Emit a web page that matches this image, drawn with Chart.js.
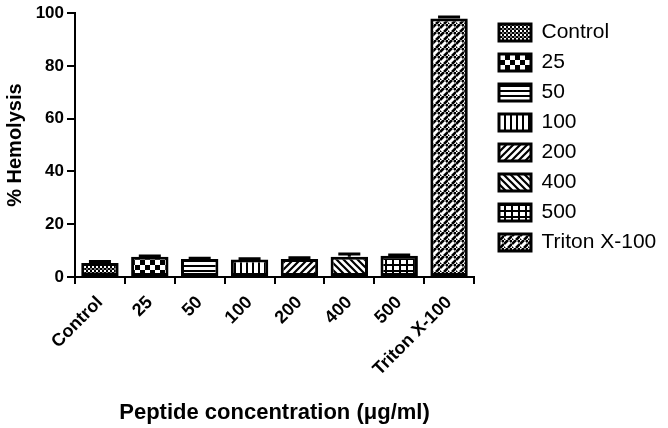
<!DOCTYPE html>
<html>
<head>
<meta charset="utf-8">
<script src="https://cdn.jsdelivr.net/npm/chart.js@4.4.1/dist/chart.umd.min.js"></script>
<style>
  body { margin:0; background:#fff; }
</style>
</head>
<body>
<canvas id="chart" width="668" height="428"></canvas>
<script>
// ── Data ─────────────────────────────────────────────
const categories = ['Control', '25', '50', '100', '200', '400', '500', 'Triton X-100'];
const hemolysis = [5.3, 7.7, 6.8, 6.6, 6.8, 7.7, 8.1, 98.0];
const errors = [0.6, 0.3, 0.3, 0.3, 0.5, 1.0, 0.2, 0.6];
const yTicks = [0, 20, 40, 60, 80, 100];

const FONT = 'Arial, "Liberation Sans", sans-serif';

// ── Fill patterns ────────────────────────────────────
function makePattern(w, h, draw) {
  const c = document.createElement('canvas');
  c.width = w; c.height = h;
  const g = c.getContext('2d');
  g.fillStyle = '#fff';
  g.fillRect(0, 0, w, h);
  g.fillStyle = '#000';
  g.strokeStyle = '#000';
  draw(g, w, h);
  return document.getElementById('chart').getContext('2d').createPattern(c, 'repeat');
}

const patterns = [
  // Control: fine checker
  makePattern(4, 4, g => { g.fillRect(0, 0, 2, 2); g.fillRect(2, 2, 2, 2); g.fillStyle = '#777'; g.fillRect(2, 0, 2, 2); }),
  // 25: coarse checker
  makePattern(10, 10, g => { g.fillRect(0, 0, 5, 5); g.fillRect(5, 5, 5, 5); }),
  // 50: horizontal lines
  makePattern(6, 5, g => { g.fillRect(0, 0, 6, 2); }),
  // 100: vertical lines
  makePattern(6, 6, g => { g.fillRect(0, 0, 2, 6); }),
  // 200: forward diagonal
  makePattern(7, 7, g => {
    g.lineWidth = 2.2;
    g.beginPath(); g.moveTo(-1, 8); g.lineTo(8, -1); g.moveTo(-4, 4); g.lineTo(4, -4); g.moveTo(3, 11); g.lineTo(11, 3); g.stroke();
  }),
  // 400: back diagonal
  makePattern(7, 7, g => {
    g.lineWidth = 2.2;
    g.beginPath(); g.moveTo(-1, -1); g.lineTo(8, 8); g.moveTo(-4, 3); g.lineTo(4, 11); g.moveTo(3, -4); g.lineTo(11, 4); g.stroke();
  }),
  // 500: grid
  makePattern(7, 6, g => { g.fillRect(0, 0, 7, 2); g.fillRect(0, 0, 2, 6); }),
  // Triton X-100: broken diagonals
  makePattern(8, 8, g => {
    g.lineWidth = 2.6;
    g.beginPath();
    g.moveTo(0, 4); g.lineTo(4, 0);
    g.moveTo(4, 8); g.lineTo(8, 4);
    g.moveTo(-2, 10); g.lineTo(1, 7);
    g.moveTo(6, 2); g.lineTo(9, -1);
    g.stroke();
  }),
];

// ── Error bars (drawn from the bar elements + y scale) ──
const errorBars = {
  id: 'errorBars',
  afterDatasetsDraw(chart) {
    const ctx = chart.ctx;
    const y = chart.scales.y;
    const meta = chart.getDatasetMeta(0);
    ctx.save();
    ctx.strokeStyle = '#000';
    ctx.lineWidth = 3;
    meta.data.forEach((bar, i) => {
      const top = y.getPixelForValue(hemolysis[i] + errors[i]);
      ctx.beginPath();
      ctx.moveTo(bar.x, bar.y);
      ctx.lineTo(bar.x, top);
      ctx.moveTo(bar.x - 11, top);
      ctx.lineTo(bar.x + 11, top);
      ctx.stroke();
    });
    ctx.restore();
  }
};

// nudge the legend a bit away from the plot, let it use the free right margin
const legendGap = {
  id: 'legendGap',
  afterLayout(chart) {
    const leg = chart.legend;
    leg.left += 16;
    leg.right = chart.width;
    leg.width = leg.right - leg.left;
  }
};

new Chart(document.getElementById('chart'), {
  type: 'bar',
  data: {
    labels: categories,
    datasets: [{
      data: hemolysis,
      backgroundColor: patterns,
      borderColor: '#000',
      borderWidth: 3,
      borderSkipped: false,
      barPercentage: 0.75,
      categoryPercentage: 1.0,
    }]
  },
  options: {
    responsive: false,
    animation: false,
    layout: { padding: { top: 13, right: 36, bottom: 0, left: 0 } },
    plugins: {
      tooltip: { enabled: false },
      legend: {
        position: 'right',
        align: 'start',
        onClick: null,
        labels: {
          color: '#000',
          font: { family: FONT, size: 21 },
          boxWidth: 32,
          boxHeight: 17,
          padding: 9,
          generateLabels: () => categories.map((c, i) => ({
            text: c,
            fillStyle: patterns[i],
            strokeStyle: '#000',
            lineWidth: 3,
            hidden: false,
            index: i,
            datasetIndex: 0,
          })),
        }
      }
    },
    scales: {
      x: {
        grid: { display: true, drawOnChartArea: false, drawTicks: true, tickLength: 7, color: '#000', lineWidth: 2 },
        border: { color: '#000', width: 2 },
        ticks: {
          color: '#000',
          font: { family: FONT, size: 18, weight: 'bold' },
          minRotation: 45,
          maxRotation: 45,
          padding: 8,
        },
        title: {
          display: true,
          text: 'Peptide concentration (μg/ml)',
          color: '#000',
          font: { family: FONT, size: 22, weight: 'bold' },
          padding: { top: 0, bottom: 2 },
        },
        afterFit: s => { s.height = 151; },
      },
      y: {
        min: 0,
        max: 100,
        afterBuildTicks: s => { s.ticks = yTicks.map(v => ({ value: v })); },
        grid: { display: true, drawOnChartArea: false, drawTicks: true, tickLength: 8, color: '#000', lineWidth: 2 },
        border: { color: '#000', width: 2 },
        ticks: {
          color: '#000',
          font: { family: FONT, size: 17, weight: 'bold' },
          padding: 3,
        },
        title: {
          display: true,
          text: '% Hemolysis',
          color: '#000',
          font: { family: FONT, size: 20, weight: 'bold' },
          padding: { top: 3, bottom: 0 },
        },
        afterFit: s => { s.width = 75; },
      }
    }
  },
  plugins: [errorBars, legendGap]
});
</script>
</body>
</html>
